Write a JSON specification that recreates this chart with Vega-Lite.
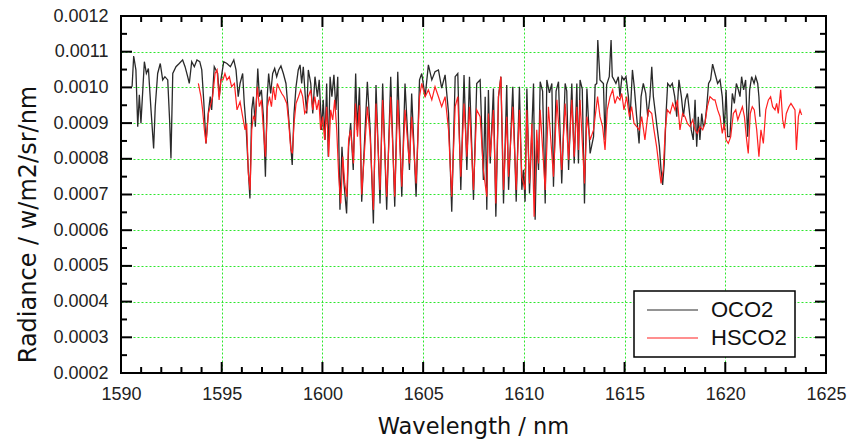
{
"$schema": "https://vega.github.io/schema/vega-lite/v6.json",
"width": 705, "height": 357,
"autosize": {"type": "none"},
"padding": {"left": 121, "top": 16, "right": 21, "bottom": 67},
"background": "white",
"config": {
  "view": {"stroke": null},
  "axis": {"labelFont": "Liberation Sans", "titleFont": "DejaVu Sans", "labelColor": "#222", "titleColor": "#111", "titleFontWeight": "normal", "gridColor": "#2ee62e", "gridDash": [2, 2], "gridWidth": 1}
},
"datasets": {
"xt": [{"v":1595,"k":"M"},{"v":1600,"k":"M"},{"v":1605,"k":"M"},{"v":1610,"k":"M"},{"v":1615,"k":"M"},{"v":1620,"k":"M"},{"v":1591,"k":"m"},{"v":1592,"k":"m"},{"v":1593,"k":"m"},{"v":1594,"k":"m"},{"v":1596,"k":"m"},{"v":1597,"k":"m"},{"v":1598,"k":"m"},{"v":1599,"k":"m"},{"v":1601,"k":"m"},{"v":1602,"k":"m"},{"v":1603,"k":"m"},{"v":1604,"k":"m"},{"v":1606,"k":"m"},{"v":1607,"k":"m"},{"v":1608,"k":"m"},{"v":1609,"k":"m"},{"v":1611,"k":"m"},{"v":1612,"k":"m"},{"v":1613,"k":"m"},{"v":1614,"k":"m"},{"v":1616,"k":"m"},{"v":1617,"k":"m"},{"v":1618,"k":"m"},{"v":1619,"k":"m"},{"v":1621,"k":"m"},{"v":1622,"k":"m"},{"v":1623,"k":"m"},{"v":1624,"k":"m"}],
"yt": [{"v":0.0003,"k":"M"},{"v":0.0004,"k":"M"},{"v":0.0005,"k":"M"},{"v":0.0006,"k":"M"},{"v":0.0007,"k":"M"},{"v":0.0008,"k":"M"},{"v":0.0009,"k":"M"},{"v":0.001,"k":"M"},{"v":0.0011,"k":"M"},{"v":0.00025,"k":"m"},{"v":0.00035,"k":"m"},{"v":0.00045,"k":"m"},{"v":0.00055,"k":"m"},{"v":0.00065,"k":"m"},{"v":0.00075,"k":"m"},{"v":0.00085,"k":"m"},{"v":0.00095,"k":"m"},{"v":0.00105,"k":"m"},{"v":0.00115,"k":"m"}],
"frame": [{"x0":1590,"x1":1625,"y0":0.0002,"y1":0.0012}],
"oco2": [
{"w":1590.55,"r":0.001002},{"w":1590.63,"r":0.001088},{"w":1590.74,"r":0.001049},{"w":1590.83,"r":0.000890},{"w":1590.91,"r":0.000979},{"w":1590.99,"r":0.000900},{"w":1591.16,"r":0.001072},{"w":1591.26,"r":0.001039},{"w":1591.36,"r":0.001053},{"w":1591.49,"r":0.000937},{"w":1591.62,"r":0.000829},{"w":1591.70,"r":0.000946},{"w":1591.82,"r":0.001039},{"w":1591.95,"r":0.001067},{"w":1592.07,"r":0.001021},{"w":1592.18,"r":0.001030},{"w":1592.32,"r":0.001021},{"w":1592.42,"r":0.000900},{"w":1592.48,"r":0.000801},{"w":1592.57,"r":0.001039},{"w":1592.73,"r":0.001058},{"w":1592.89,"r":0.001067},{"w":1593.06,"r":0.001077},{"w":1593.18,"r":0.001058},{"w":1593.31,"r":0.001030},{"w":1593.39,"r":0.001011},{"w":1593.51,"r":0.001072},{"w":1593.64,"r":0.001058},{"w":1593.77,"r":0.001077},{"w":1593.91,"r":0.001072},{"w":1594.01,"r":0.001049},{"w":1594.11,"r":0.000960},{"w":1594.22,"r":0.000843},{"w":1594.33,"r":0.000927},{"w":1594.43,"r":0.000974},{"w":1594.50,"r":0.000937},{"w":1594.63,"r":0.001058},{"w":1594.80,"r":0.001039},{"w":1594.88,"r":0.000974},{"w":1594.96,"r":0.001021},{"w":1595.10,"r":0.001072},{"w":1595.26,"r":0.001067},{"w":1595.43,"r":0.001058},{"w":1595.60,"r":0.001077},{"w":1595.71,"r":0.001049},{"w":1595.82,"r":0.000974},{"w":1595.91,"r":0.001011},{"w":1596.04,"r":0.001039},{"w":1596.12,"r":0.000955},{"w":1596.21,"r":0.000890},{"w":1596.32,"r":0.000769},{"w":1596.40,"r":0.000689},{"w":1596.49,"r":0.000937},{"w":1596.57,"r":0.000974},{"w":1596.67,"r":0.000890},{"w":1596.79,"r":0.001053},{"w":1596.87,"r":0.000974},{"w":1596.97,"r":0.000993},{"w":1597.07,"r":0.000918},{"w":1597.17,"r":0.000750},{"w":1597.26,"r":0.000974},{"w":1597.33,"r":0.001039},{"w":1597.43,"r":0.000983},{"w":1597.53,"r":0.001039},{"w":1597.63,"r":0.001053},{"w":1597.73,"r":0.001030},{"w":1597.83,"r":0.001049},{"w":1597.94,"r":0.001060},{"w":1598.06,"r":0.001039},{"w":1598.19,"r":0.001011},{"w":1598.31,"r":0.000927},{"w":1598.43,"r":0.000834},{"w":1598.50,"r":0.000783},{"w":1598.59,"r":0.000927},{"w":1598.69,"r":0.001002},{"w":1598.80,"r":0.001049},{"w":1598.89,"r":0.001063},{"w":1598.97,"r":0.001011},{"w":1599.05,"r":0.001058},{"w":1599.15,"r":0.000974},{"w":1599.22,"r":0.000927},{"w":1599.30,"r":0.001049},{"w":1599.42,"r":0.001011},{"w":1599.52,"r":0.000927},{"w":1599.63,"r":0.001030},{"w":1599.75,"r":0.000974},{"w":1599.84,"r":0.001021},{"w":1599.96,"r":0.000881},{"w":1600.04,"r":0.000965},{"w":1600.13,"r":0.000853},{"w":1600.21,"r":0.001011},{"w":1600.29,"r":0.000806},{"w":1600.38,"r":0.001030},{"w":1600.47,"r":0.000974},{"w":1600.57,"r":0.001035},{"w":1600.67,"r":0.000937},{"w":1600.76,"r":0.001030},{"w":1600.87,"r":0.000657},{"w":1600.97,"r":0.000834},{"w":1601.07,"r":0.000731},{"w":1601.20,"r":0.000647},{"w":1601.30,"r":0.000834},{"w":1601.40,"r":0.000900},{"w":1601.53,"r":0.000769},{"w":1601.65,"r":0.001039},{"w":1601.73,"r":0.000881},{"w":1601.84,"r":0.001000},{"w":1601.95,"r":0.000680},{"w":1602.23,"r":0.001016},{"w":1602.37,"r":0.000881},{"w":1602.53,"r":0.000619},{"w":1602.66,"r":0.001007},{"w":1602.86,"r":0.000675},{"w":1602.99,"r":0.001011},{"w":1603.19,"r":0.000657},{"w":1603.39,"r":0.001030},{"w":1603.59,"r":0.000666},{"w":1603.74,"r":0.001044},{"w":1603.94,"r":0.000694},{"w":1604.10,"r":0.001011},{"w":1604.32,"r":0.000769},{"w":1604.43,"r":0.000983},{"w":1604.65,"r":0.000694},{"w":1604.82,"r":0.001021},{"w":1604.93,"r":0.001039},{"w":1605.10,"r":0.000974},{"w":1605.26,"r":0.001063},{"w":1605.43,"r":0.001021},{"w":1605.59,"r":0.001044},{"w":1605.76,"r":0.001049},{"w":1605.92,"r":0.000998},{"w":1606.09,"r":0.001035},{"w":1606.26,"r":0.000928},{"w":1606.42,"r":0.000652},{"w":1606.59,"r":0.001030},{"w":1606.72,"r":0.001039},{"w":1606.87,"r":0.000713},{"w":1607.03,"r":0.001035},{"w":1607.17,"r":0.000769},{"w":1607.30,"r":0.001030},{"w":1607.50,"r":0.000685},{"w":1607.66,"r":0.001011},{"w":1607.83,"r":0.001021},{"w":1607.99,"r":0.000741},{"w":1608.08,"r":0.000974},{"w":1608.16,"r":0.000657},{"w":1608.24,"r":0.000993},{"w":1608.33,"r":0.000787},{"w":1608.49,"r":0.000997},{"w":1608.61,"r":0.000638},{"w":1608.74,"r":0.000974},{"w":1608.86,"r":0.001030},{"w":1608.99,"r":0.000675},{"w":1609.15,"r":0.001007},{"w":1609.24,"r":0.000713},{"w":1609.45,"r":0.001002},{"w":1609.62,"r":0.000680},{"w":1609.78,"r":0.001002},{"w":1609.90,"r":0.000713},{"w":1609.98,"r":0.000769},{"w":1610.06,"r":0.000680},{"w":1610.15,"r":0.000997},{"w":1610.28,"r":0.000703},{"w":1610.48,"r":0.001011},{"w":1610.56,"r":0.000629},{"w":1610.64,"r":0.000850},{"w":1610.73,"r":0.000769},{"w":1610.81,"r":0.001016},{"w":1610.93,"r":0.000990},{"w":1611.06,"r":0.000675},{"w":1611.14,"r":0.001021},{"w":1611.27,"r":0.000985},{"w":1611.39,"r":0.001011},{"w":1611.47,"r":0.000722},{"w":1611.60,"r":0.000990},{"w":1611.72,"r":0.001016},{"w":1611.88,"r":0.000731},{"w":1612.05,"r":0.001011},{"w":1612.13,"r":0.000990},{"w":1612.22,"r":0.000769},{"w":1612.38,"r":0.001011},{"w":1612.50,"r":0.000787},{"w":1612.63,"r":0.001011},{"w":1612.71,"r":0.000787},{"w":1612.79,"r":0.001021},{"w":1612.90,"r":0.000995},{"w":1613.01,"r":0.000675},{"w":1613.13,"r":0.000997},{"w":1613.29,"r":0.000815},{"w":1613.46,"r":0.000862},{"w":1613.54,"r":0.001007},{"w":1613.62,"r":0.001011},{"w":1613.67,"r":0.001133},{"w":1613.78,"r":0.001021},{"w":1613.95,"r":0.001011},{"w":1614.03,"r":0.000853},{"w":1614.11,"r":0.001007},{"w":1614.24,"r":0.001030},{"w":1614.33,"r":0.001133},{"w":1614.39,"r":0.001030},{"w":1614.48,"r":0.001021},{"w":1614.57,"r":0.001011},{"w":1614.69,"r":0.001030},{"w":1614.77,"r":0.000974},{"w":1614.87,"r":0.001030},{"w":1614.97,"r":0.001021},{"w":1615.07,"r":0.001030},{"w":1615.19,"r":0.000974},{"w":1615.27,"r":0.000909},{"w":1615.39,"r":0.001049},{"w":1615.48,"r":0.001002},{"w":1615.60,"r":0.000918},{"w":1615.72,"r":0.000843},{"w":1615.82,"r":0.000974},{"w":1615.93,"r":0.001011},{"w":1616.05,"r":0.000983},{"w":1616.15,"r":0.000918},{"w":1616.26,"r":0.000974},{"w":1616.35,"r":0.001058},{"w":1616.43,"r":0.000974},{"w":1616.51,"r":0.000937},{"w":1616.63,"r":0.000881},{"w":1616.73,"r":0.000834},{"w":1616.81,"r":0.000769},{"w":1616.89,"r":0.000727},{"w":1616.97,"r":0.000787},{"w":1617.06,"r":0.000927},{"w":1617.14,"r":0.001011},{"w":1617.26,"r":0.001002},{"w":1617.37,"r":0.001011},{"w":1617.49,"r":0.000974},{"w":1617.59,"r":0.000918},{"w":1617.70,"r":0.001021},{"w":1617.82,"r":0.000974},{"w":1617.92,"r":0.000918},{"w":1618.02,"r":0.000965},{"w":1618.12,"r":0.000983},{"w":1618.21,"r":0.000937},{"w":1618.31,"r":0.000881},{"w":1618.41,"r":0.000853},{"w":1618.50,"r":0.000965},{"w":1618.58,"r":0.000834},{"w":1618.66,"r":0.000918},{"w":1618.74,"r":0.000853},{"w":1618.83,"r":0.000927},{"w":1618.91,"r":0.000890},{"w":1618.99,"r":0.000899},{"w":1619.08,"r":0.000946},{"w":1619.17,"r":0.001011},{"w":1619.27,"r":0.001021},{"w":1619.37,"r":0.001065},{"w":1619.49,"r":0.001039},{"w":1619.62,"r":0.001011},{"w":1619.74,"r":0.001021},{"w":1619.85,"r":0.000974},{"w":1619.95,"r":0.000881},{"w":1620.04,"r":0.000993},{"w":1620.12,"r":0.000862},{"w":1620.23,"r":0.000862},{"w":1620.35,"r":0.000983},{"w":1620.45,"r":0.000955},{"w":1620.55,"r":0.001011},{"w":1620.65,"r":0.000993},{"w":1620.73,"r":0.000974},{"w":1620.81,"r":0.001030},{"w":1620.91,"r":0.000993},{"w":1621.01,"r":0.001021},{"w":1621.11,"r":0.000862},{"w":1621.21,"r":0.000993},{"w":1621.31,"r":0.001030},{"w":1621.43,"r":0.001011},{"w":1621.51,"r":0.001030},{"w":1621.61,"r":0.001011},{"w":1621.67,"r":0.000974},{"w":1621.72,"r":0.000918}
],
"hsco2": [
{"w":1593.84,"r":0.001011},{"w":1593.97,"r":0.000974},{"w":1594.05,"r":0.000937},{"w":1594.14,"r":0.000881},{"w":1594.22,"r":0.000843},{"w":1594.34,"r":0.000927},{"w":1594.43,"r":0.000946},{"w":1594.55,"r":0.000974},{"w":1594.67,"r":0.001039},{"w":1594.77,"r":0.001049},{"w":1594.87,"r":0.000965},{"w":1594.96,"r":0.001021},{"w":1595.06,"r":0.001021},{"w":1595.16,"r":0.001039},{"w":1595.26,"r":0.001021},{"w":1595.38,"r":0.001030},{"w":1595.49,"r":0.001002},{"w":1595.63,"r":0.001011},{"w":1595.76,"r":0.000937},{"w":1595.91,"r":0.000960},{"w":1596.04,"r":0.000918},{"w":1596.16,"r":0.000881},{"w":1596.24,"r":0.000899},{"w":1596.32,"r":0.000759},{"w":1596.41,"r":0.000713},{"w":1596.49,"r":0.000881},{"w":1596.57,"r":0.000918},{"w":1596.65,"r":0.000909},{"w":1596.77,"r":0.001002},{"w":1596.87,"r":0.000946},{"w":1596.97,"r":0.000965},{"w":1597.07,"r":0.000881},{"w":1597.17,"r":0.000806},{"w":1597.27,"r":0.000946},{"w":1597.37,"r":0.000974},{"w":1597.47,"r":0.000946},{"w":1597.56,"r":0.001002},{"w":1597.66,"r":0.000965},{"w":1597.76,"r":0.001011},{"w":1597.86,"r":0.000997},{"w":1597.98,"r":0.000983},{"w":1598.09,"r":0.000974},{"w":1598.23,"r":0.000955},{"w":1598.33,"r":0.000899},{"w":1598.43,"r":0.000825},{"w":1598.51,"r":0.000815},{"w":1598.59,"r":0.000899},{"w":1598.69,"r":0.000955},{"w":1598.81,"r":0.000974},{"w":1598.92,"r":0.000993},{"w":1599.02,"r":0.000974},{"w":1599.12,"r":0.000927},{"w":1599.22,"r":0.000937},{"w":1599.30,"r":0.000974},{"w":1599.42,"r":0.000993},{"w":1599.52,"r":0.000937},{"w":1599.62,"r":0.000974},{"w":1599.72,"r":0.000937},{"w":1599.82,"r":0.000965},{"w":1599.91,"r":0.000881},{"w":1600.01,"r":0.000918},{"w":1600.11,"r":0.000853},{"w":1600.21,"r":0.000946},{"w":1600.31,"r":0.000806},{"w":1600.41,"r":0.000937},{"w":1600.51,"r":0.000909},{"w":1600.61,"r":0.000965},{"w":1600.71,"r":0.000881},{"w":1600.81,"r":0.000750},{"w":1600.91,"r":0.000675},{"w":1601.01,"r":0.000806},{"w":1601.11,"r":0.000731},{"w":1601.21,"r":0.000694},{"w":1601.30,"r":0.000853},{"w":1601.40,"r":0.000881},{"w":1601.54,"r":0.000787},{"w":1601.64,"r":0.000955},{"w":1601.74,"r":0.000862},{"w":1601.84,"r":0.000950},{"w":1601.95,"r":0.000700},{"w":1602.23,"r":0.000946},{"w":1602.37,"r":0.000862},{"w":1602.53,"r":0.000657},{"w":1602.66,"r":0.000955},{"w":1602.86,"r":0.000713},{"w":1602.99,"r":0.000965},{"w":1603.19,"r":0.000694},{"w":1603.39,"r":0.000974},{"w":1603.59,"r":0.000694},{"w":1603.74,"r":0.000965},{"w":1603.94,"r":0.000722},{"w":1604.10,"r":0.000937},{"w":1604.32,"r":0.000787},{"w":1604.43,"r":0.000918},{"w":1604.65,"r":0.000731},{"w":1604.82,"r":0.000974},{"w":1604.93,"r":0.001011},{"w":1605.10,"r":0.000974},{"w":1605.26,"r":0.000993},{"w":1605.43,"r":0.000965},{"w":1605.59,"r":0.001002},{"w":1605.76,"r":0.000974},{"w":1605.92,"r":0.000946},{"w":1606.09,"r":0.000974},{"w":1606.26,"r":0.000881},{"w":1606.42,"r":0.000694},{"w":1606.59,"r":0.000946},{"w":1606.72,"r":0.000974},{"w":1606.87,"r":0.000750},{"w":1607.03,"r":0.000955},{"w":1607.17,"r":0.000806},{"w":1607.30,"r":0.000946},{"w":1607.50,"r":0.000713},{"w":1607.66,"r":0.000937},{"w":1607.83,"r":0.000918},{"w":1607.99,"r":0.000769},{"w":1608.16,"r":0.000694},{"w":1608.24,"r":0.000927},{"w":1608.33,"r":0.000806},{"w":1608.49,"r":0.000937},{"w":1608.61,"r":0.000675},{"w":1608.74,"r":0.000974},{"w":1608.86,"r":0.001030},{"w":1608.99,"r":0.000713},{"w":1609.15,"r":0.000918},{"w":1609.24,"r":0.000750},{"w":1609.45,"r":0.000946},{"w":1609.62,"r":0.000713},{"w":1609.78,"r":0.000937},{"w":1609.90,"r":0.000750},{"w":1610.06,"r":0.000713},{"w":1610.15,"r":0.000937},{"w":1610.28,"r":0.000731},{"w":1610.40,"r":0.000899},{"w":1610.51,"r":0.000638},{"w":1610.64,"r":0.000881},{"w":1610.73,"r":0.000787},{"w":1610.81,"r":0.000937},{"w":1611.06,"r":0.000713},{"w":1611.22,"r":0.000946},{"w":1611.47,"r":0.000750},{"w":1611.64,"r":0.000965},{"w":1611.88,"r":0.000769},{"w":1612.05,"r":0.000955},{"w":1612.22,"r":0.000797},{"w":1612.38,"r":0.000965},{"w":1612.50,"r":0.000806},{"w":1612.63,"r":0.000946},{"w":1612.71,"r":0.000825},{"w":1612.79,"r":0.000965},{"w":1613.01,"r":0.000731},{"w":1613.13,"r":0.000918},{"w":1613.29,"r":0.000853},{"w":1613.46,"r":0.000881},{"w":1613.66,"r":0.000974},{"w":1613.78,"r":0.000918},{"w":1613.91,"r":0.000890},{"w":1614.03,"r":0.000825},{"w":1614.14,"r":0.000937},{"w":1614.28,"r":0.000974},{"w":1614.41,"r":0.000993},{"w":1614.52,"r":0.000955},{"w":1614.64,"r":0.000974},{"w":1614.77,"r":0.000965},{"w":1614.86,"r":0.000983},{"w":1614.97,"r":0.000937},{"w":1615.10,"r":0.000974},{"w":1615.24,"r":0.000918},{"w":1615.35,"r":0.000946},{"w":1615.47,"r":0.000899},{"w":1615.60,"r":0.000890},{"w":1615.73,"r":0.000881},{"w":1615.85,"r":0.000918},{"w":1616.01,"r":0.000853},{"w":1616.18,"r":0.000937},{"w":1616.35,"r":0.000927},{"w":1616.46,"r":0.000881},{"w":1616.59,"r":0.000834},{"w":1616.73,"r":0.000769},{"w":1616.81,"r":0.000731},{"w":1616.92,"r":0.000769},{"w":1617.02,"r":0.000881},{"w":1617.12,"r":0.000937},{"w":1617.26,"r":0.000927},{"w":1617.39,"r":0.000955},{"w":1617.50,"r":0.000937},{"w":1617.62,"r":0.000965},{"w":1617.75,"r":0.000881},{"w":1617.88,"r":0.000927},{"w":1618.00,"r":0.000918},{"w":1618.12,"r":0.000899},{"w":1618.25,"r":0.000890},{"w":1618.38,"r":0.000909},{"w":1618.50,"r":0.000881},{"w":1618.61,"r":0.000871},{"w":1618.74,"r":0.000890},{"w":1618.88,"r":0.000881},{"w":1618.99,"r":0.000899},{"w":1619.11,"r":0.000946},{"w":1619.24,"r":0.000974},{"w":1619.41,"r":0.000965},{"w":1619.49,"r":0.000965},{"w":1619.62,"r":0.000937},{"w":1619.74,"r":0.000918},{"w":1619.85,"r":0.000871},{"w":1619.95,"r":0.000899},{"w":1620.04,"r":0.000853},{"w":1620.15,"r":0.000843},{"w":1620.27,"r":0.000862},{"w":1620.40,"r":0.000927},{"w":1620.52,"r":0.000937},{"w":1620.62,"r":0.000909},{"w":1620.73,"r":0.000927},{"w":1620.85,"r":0.000946},{"w":1620.95,"r":0.000918},{"w":1621.06,"r":0.000853},{"w":1621.14,"r":0.000815},{"w":1621.24,"r":0.000927},{"w":1621.34,"r":0.000946},{"w":1621.44,"r":0.000937},{"w":1621.56,"r":0.000881},{"w":1621.67,"r":0.000806},{"w":1621.77,"r":0.000881},{"w":1621.89,"r":0.000843},{"w":1622.01,"r":0.000937},{"w":1622.14,"r":0.000965},{"w":1622.25,"r":0.000974},{"w":1622.35,"r":0.000946},{"w":1622.47,"r":0.000937},{"w":1622.55,"r":0.000955},{"w":1622.63,"r":0.000927},{"w":1622.75,"r":0.000993},{"w":1622.85,"r":0.000909},{"w":1622.93,"r":0.000885},{"w":1623.03,"r":0.000927},{"w":1623.16,"r":0.000946},{"w":1623.26,"r":0.000955},{"w":1623.36,"r":0.000946},{"w":1623.46,"r":0.000937},{"w":1623.53,"r":0.000825},{"w":1623.63,"r":0.000918},{"w":1623.71,"r":0.000937},{"w":1623.79,"r":0.000923}
]
},
"layer": [
{
  "data": {"name": "oco2"},
  "mark": {"type": "line", "strokeOpacity": 0},
  "encoding": {
    "x": {"field": "w", "type": "quantitative", "scale": {"domain": [1590, 1625], "nice": false, "zero": false},
      "axis": {"orient": "bottom", "values": [1590,1595,1600,1605,1610,1615,1620,1625],
        "format": "d", "labelFontSize": 18, "labelPadding": 12, "labelFlush": false, "labelOverlap": false, "ticks": false, "domain": false,
        "grid": true,
        "title": "Wavelength / nm", "titleFontSize": 22.5, "titleBaseline": "alphabetic", "titleY": 60, "titleX": 352}},
    "y": {"field": "r", "type": "quantitative", "scale": {"domain": [0.0002, 0.0012], "nice": false, "zero": false},
      "axis": {"orient": "left", "values": [0.0002,0.0003,0.0004,0.0005,0.0006,0.0007,0.0008,0.0009,0.001,0.0011,0.0012],
        "format": ".4f", "labelFontSize": 18, "labelPadding": 13, "labelFlush": false, "labelOverlap": false, "ticks": false, "domain": false,
        "grid": true,
        "title": "Radiance / w/m2/sr/nm", "titleFontSize": 24, "titleBaseline": "alphabetic", "titleAngle": -90, "titleAlign": "center", "titleX": -86, "titleY": 208}}
  }
},
{
  "data": {"name": "oco2"},
  "transform": [{"calculate": "'OCO2'", "as": "s"}],
  "mark": {"type": "line", "strokeWidth": 1.3, "clip": true},
  "encoding": {
    "x": {"field": "w", "type": "quantitative", "axis": null},
    "y": {"field": "r", "type": "quantitative", "axis": null},
    "color": {"field": "s", "type": "nominal", "scale": {"domain": ["OCO2", "HSCO2"], "range": ["#2a2a2a", "#ff2020"]},
      "legend": {"orient": "none", "legendX": 513, "legendY": 275, "title": null, "padding": 8, "strokeColor": "#000", "fillColor": "#fff", "cornerRadius": 0,
        "symbolType": "M-1.2,0H9", "symbolSize": 100, "symbolStrokeWidth": 1.2, "labelFont": "Liberation Sans", "labelFontSize": 22, "labelColor": "#111", "labelOffset": 47, "rowPadding": 6, "labelLimit": 300,
        "encode": {"legend": {"update": {"strokeWidth": {"value": 1.5}}}}}}
  }
},
{
  "data": {"name": "hsco2"},
  "transform": [{"calculate": "'HSCO2'", "as": "s"}],
  "mark": {"type": "line", "strokeWidth": 1.2, "clip": true},
  "encoding": {
    "x": {"field": "w", "type": "quantitative", "axis": null},
    "y": {"field": "r", "type": "quantitative", "axis": null},
    "color": {"field": "s", "type": "nominal"}
  }
},
{
  "data": {"name": "xt"}, "transform": [{"filter": "datum.k === 'M'"}],
  "mark": {"type": "tick", "orient": "vertical", "size": 11, "thickness": 2, "yOffset": -5.5, "color": "black", "opacity": 1},
  "encoding": {"x": {"field": "v", "type": "quantitative", "axis": null}, "y": {"datum": 0.0002, "type": "quantitative", "axis": null}}
},
{
  "data": {"name": "xt"}, "transform": [{"filter": "datum.k === 'm'"}],
  "mark": {"type": "tick", "orient": "vertical", "size": 6, "thickness": 2, "yOffset": -3, "color": "black", "opacity": 1},
  "encoding": {"x": {"field": "v", "type": "quantitative", "axis": null}, "y": {"datum": 0.0002, "type": "quantitative", "axis": null}}
},
{
  "data": {"name": "xt"}, "transform": [{"filter": "datum.k === 'M'"}],
  "mark": {"type": "tick", "orient": "vertical", "size": 11, "thickness": 2, "yOffset": 5.5, "color": "black", "opacity": 1},
  "encoding": {"x": {"field": "v", "type": "quantitative", "axis": null}, "y": {"datum": 0.0012, "type": "quantitative", "axis": null}}
},
{
  "data": {"name": "xt"}, "transform": [{"filter": "datum.k === 'm'"}],
  "mark": {"type": "tick", "orient": "vertical", "size": 6, "thickness": 2, "yOffset": 3, "color": "black", "opacity": 1},
  "encoding": {"x": {"field": "v", "type": "quantitative", "axis": null}, "y": {"datum": 0.0012, "type": "quantitative", "axis": null}}
},
{
  "data": {"name": "yt"}, "transform": [{"filter": "datum.k === 'M'"}],
  "mark": {"type": "tick", "orient": "horizontal", "size": 11, "thickness": 2, "xOffset": 5.5, "color": "black", "opacity": 1},
  "encoding": {"y": {"field": "v", "type": "quantitative", "axis": null}, "x": {"datum": 1590, "type": "quantitative", "axis": null}}
},
{
  "data": {"name": "yt"}, "transform": [{"filter": "datum.k === 'm'"}],
  "mark": {"type": "tick", "orient": "horizontal", "size": 6, "thickness": 2, "xOffset": 3, "color": "black", "opacity": 1},
  "encoding": {"y": {"field": "v", "type": "quantitative", "axis": null}, "x": {"datum": 1590, "type": "quantitative", "axis": null}}
},
{
  "data": {"name": "yt"}, "transform": [{"filter": "datum.k === 'M'"}],
  "mark": {"type": "tick", "orient": "horizontal", "size": 11, "thickness": 2, "xOffset": -5.5, "color": "black", "opacity": 1},
  "encoding": {"y": {"field": "v", "type": "quantitative", "axis": null}, "x": {"datum": 1625, "type": "quantitative", "axis": null}}
},
{
  "data": {"name": "yt"}, "transform": [{"filter": "datum.k === 'm'"}],
  "mark": {"type": "tick", "orient": "horizontal", "size": 6, "thickness": 2, "xOffset": -3, "color": "black", "opacity": 1},
  "encoding": {"y": {"field": "v", "type": "quantitative", "axis": null}, "x": {"datum": 1625, "type": "quantitative", "axis": null}}
},
{
  "data": {"name": "frame"},
  "mark": {"type": "rect", "filled": false, "stroke": "black", "strokeWidth": 2, "opacity": 1},
  "encoding": {"x": {"field": "x0", "type": "quantitative", "axis": null}, "x2": {"field": "x1"}, "y": {"field": "y0", "type": "quantitative", "axis": null}, "y2": {"field": "y1"}}
}
],
"resolve": {"axis": {"x": "independent", "y": "independent"}}
}
